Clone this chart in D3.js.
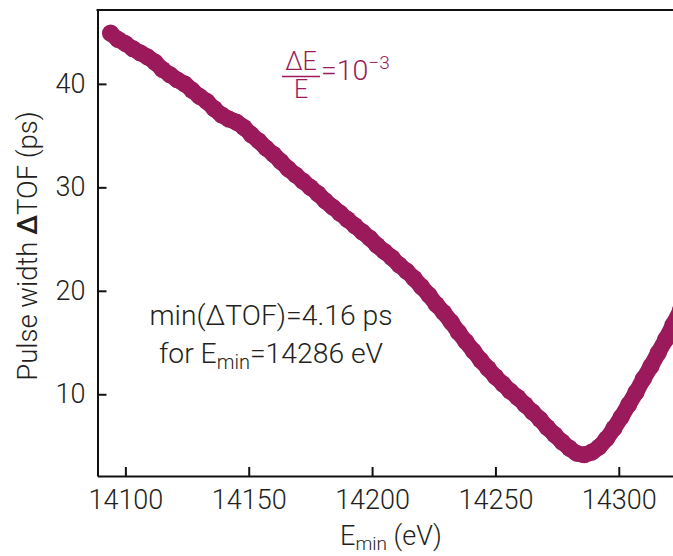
<!DOCTYPE html>
<html>
<head>
<meta charset="utf-8">
<script src="https://cdn.jsdelivr.net/npm/d3@7"></script>
<style>
  html, body { margin: 0; padding: 0; background: #fff; }
  svg text { font-family: Roboto, "Liberation Sans", sans-serif; font-weight: 300; fill: #231f20; }
</style>
</head>
<body>
<svg id="chart" width="673" height="556"></svg>
<script>
// Minimum photon energy E_min (eV) and resulting pulse width ΔTOF (ps)
const energy = [
  14094, 14097, 14100, 14103, 14106, 14109, 14112, 14115, 14118, 14121,
  14124, 14127, 14130, 14133, 14136, 14139, 14142, 14145, 14148, 14151,
  14154, 14157, 14160, 14163, 14166, 14169, 14172, 14175, 14178, 14181,
  14184, 14187, 14190, 14193, 14196, 14199, 14202, 14205, 14208, 14211,
  14214, 14217, 14220, 14223, 14226, 14229, 14232, 14235, 14238, 14241,
  14244, 14247, 14250, 14253, 14256, 14259, 14262, 14265, 14268, 14271,
  14274, 14277, 14280, 14283, 14286, 14289, 14292, 14295, 14298, 14301,
  14304, 14307, 14310, 14313, 14316, 14319, 14322, 14325
];
const pulseWidth = [
  44.9, 44.3, 43.9, 43.4, 43.0, 42.6, 42.1, 41.4, 40.9, 40.4,
  40.0, 39.4, 38.8, 38.3, 37.6, 37.0, 36.6, 36.3, 35.8, 35.1,
  34.5, 33.8, 33.2, 32.5, 31.8, 31.2, 30.6, 30.0, 29.4, 28.7,
  28.1, 27.5, 26.9, 26.3, 25.7, 25.1, 24.4, 23.8, 23.2, 22.5,
  21.9, 21.2, 20.4, 19.6, 18.7, 17.9, 17.0, 16.0, 15.1, 14.2,
  13.3, 12.5, 11.7, 11.0, 10.3, 9.7, 9.0, 8.3, 7.6, 6.8,
  6.1, 5.4, 4.8, 4.3, 4.16, 4.4, 4.9, 5.7, 6.7, 7.8,
  9.0, 10.2, 11.5, 12.7, 14.0, 15.3, 16.7, 18.1
];
const xTicks = [14100, 14150, 14200, 14250, 14300];
const yTicks = [10, 20, 30, 40];
const xDomain = [14088.7, 14330];
const yDomain = [2.1, 47.14];

const curveColor = "#9b1a5b";
const fontStack = "Roboto, 'Liberation Sans', sans-serif";
const svg = d3.select("#chart");

const plot = { left: 97.5, top: 10, bottom: 476 };
const x = d3.scaleLinear().domain(xDomain).range([plot.left, plot.left + (xDomain[1] - xDomain[0]) * 2.467]);
const y = d3.scaleLinear().domain(yDomain).range([plot.bottom, plot.top]);
const plotRight = x(xDomain[1]);

svg.append("defs").append("clipPath").attr("id", "plotClip")
  .append("rect")
  .attr("x", plot.left).attr("y", plot.top)
  .attr("width", plotRight - plot.left).attr("height", plot.bottom - plot.top);

// data: a dense run of overlapping markers
const points = energy.map((e, i) => ({ e, w: pulseWidth[i] }));
const dataLayer = svg.append("g").attr("clip-path", "url(#plotClip)");
dataLayer.append("path")
  .datum(points)
  .attr("d", d3.line().x(d => x(d.e)).y(d => y(d.w)).curve(d3.curveMonotoneX))
  .attr("fill", "none")
  .attr("stroke", curveColor)
  .attr("stroke-width", 16)
  .attr("stroke-linejoin", "round")
  .attr("stroke-linecap", "round");
dataLayer.selectAll("circle").data(points).join("circle")
  .attr("cx", d => x(d.e))
  .attr("cy", d => y(d.w))
  .attr("r", 8.6)
  .attr("fill", curveColor);

// axes (ticks pointing inward)
const xAxis = svg.append("g")
  .attr("transform", `translate(0,${plot.bottom})`)
  .call(d3.axisBottom(x).tickValues(xTicks).tickFormat(d3.format("d"))
    .tickSizeInner(-9).tickSizeOuter(0).tickPadding(14));
const yAxis = svg.append("g")
  .attr("transform", `translate(${plot.left},0)`)
  .call(d3.axisLeft(y).tickValues(yTicks).tickFormat(d3.format("d"))
    .tickSizeInner(-9).tickSizeOuter(0).tickPadding(12));

[xAxis, yAxis].forEach(g => {
  g.select(".domain").attr("stroke", "#111").attr("stroke-width", 2);
  g.selectAll(".tick line").attr("stroke", "#111").attr("stroke-width", 2);
  g.selectAll(".tick text").attr("font-size", 27)
    .style("font-family", fontStack)
    .style("font-weight", 300).attr("fill", "#231f20");
});

// top frame line
svg.append("line")
  .attr("x1", plot.left - 1).attr("x2", plotRight)
  .attr("y1", plot.top).attr("y2", plot.top)
  .attr("stroke", "#111").attr("stroke-width", 2);

// axis titles
const xTitle = svg.append("text")
  .attr("x", 391).attr("y", 545)
  .attr("text-anchor", "middle").attr("font-size", 27);
xTitle.append("tspan").text("E");
xTitle.append("tspan").attr("font-size", 19).attr("dy", 5).text("min");
xTitle.append("tspan").attr("dy", -5).text(" (eV)");

const yTitle = svg.append("text")
  .attr("transform", "translate(37,246) rotate(-90)")
  .attr("text-anchor", "middle").attr("font-size", 27.5);
yTitle.append("tspan").text("Pulse width ");
yTitle.append("tspan").style("font-weight", 500).text("Δ");
yTitle.append("tspan").text("TOF (ps)");

// minimum annotation
svg.append("text")
  .attr("x", 271).attr("y", 325)
  .attr("text-anchor", "middle").attr("font-size", 28.3)
  .text("min(ΔTOF)=4.16 ps");
const line2 = svg.append("text")
  .attr("x", 271).attr("y", 363)
  .attr("text-anchor", "middle").attr("font-size", 28.3);
line2.append("tspan").text("for E");
line2.append("tspan").attr("font-size", 20).attr("dy", 6).text("min");
line2.append("tspan").attr("dy", -6).text("=14286 eV");

// relative bandwidth ΔE/E = 10^-3
const frac = svg.append("g");
frac.append("text").attr("x", 301).attr("y", 70)
  .attr("text-anchor", "middle").attr("font-size", 25)
  .style("fill", curveColor).text("ΔE");
frac.append("line").attr("x1", 282).attr("x2", 320)
  .attr("y1", 76.5).attr("y2", 76.5)
  .attr("stroke", curveColor).attr("stroke-width", 1.6);
frac.append("text").attr("x", 301).attr("y", 98)
  .attr("text-anchor", "middle").attr("font-size", 25)
  .style("fill", curveColor).text("E");
const rhs = frac.append("text").attr("x", 321).attr("y", 80)
  .attr("font-size", 28.5).style("fill", curveColor);
rhs.append("tspan").text("=10");
rhs.append("tspan").attr("font-size", 19).attr("dy", -11).text("−3");
</script>
</body>
</html>
